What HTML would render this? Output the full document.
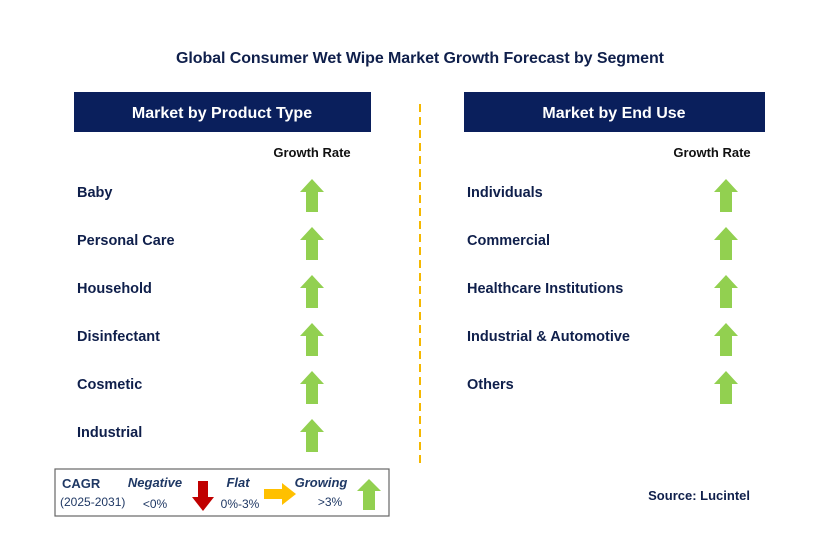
<!DOCTYPE html>
<html><head><meta charset="utf-8"><style>
body{margin:0;width:829px;height:544px;background:#fff;overflow:hidden;font-family:"Liberation Sans",Arial,sans-serif}
</style></head><body>
<svg width="829" height="544" viewBox="0 0 829 544" id="chart">
<text x="420" y="63" text-anchor="middle" font-size="16" font-weight="bold" fill="#0f1f4b" textLength="488">Global Consumer Wet Wipe Market Growth Forecast by Segment</text>
<rect x="74" y="92" width="297" height="40" fill="#0a1f5c"/>
<text x="222" y="118" text-anchor="middle" font-size="16" font-weight="bold" fill="#fff">Market by Product Type</text>
<rect x="464" y="92" width="301" height="40" fill="#0a1f5c"/>
<text x="614" y="118" text-anchor="middle" font-size="16" font-weight="bold" fill="#fff">Market by End Use</text>
<line x1="420" y1="104" x2="420" y2="464" stroke="#f5b800" stroke-width="2" stroke-dasharray="8,5"/>
<text x="312" y="157" text-anchor="middle" font-size="13" font-weight="bold" fill="#111">Growth Rate</text>
<text x="712" y="157" text-anchor="middle" font-size="13" font-weight="bold" fill="#111">Growth Rate</text>
<g id="rows"></g>
<rect x="55" y="469" width="334" height="47" fill="#fff" stroke="#666" stroke-width="1.2"/>
<text x="62" y="488" font-size="13" font-weight="bold" fill="#1f3864">CAGR</text>
<text x="60" y="506" font-size="12" fill="#1f3864">(2025-2031)</text>
<text x="155" y="487" text-anchor="middle" font-size="13" font-weight="bold" font-style="italic" fill="#1f3864">Negative</text>
<text x="155" y="508" text-anchor="middle" font-size="12" fill="#1f3864">&lt;0%</text>
<path d="M198,481 h10 v16 h6 l-11,14 l-11,-14 h6 z" fill="#c00000"/>
<text x="238" y="487" text-anchor="middle" font-size="13" font-weight="bold" font-style="italic" fill="#1f3864">Flat</text>
<text x="240" y="508" text-anchor="middle" font-size="12" fill="#1f3864">0%-3%</text>
<path d="M264,489 h18 v-6 l14,11 l-14,11 v-6 h-18 z" fill="#ffc000"/>
<text x="321" y="487" text-anchor="middle" font-size="13" font-weight="bold" font-style="italic" fill="#1f3864">Growing</text>
<text x="330" y="506" text-anchor="middle" font-size="12" fill="#1f3864">&gt;3%</text>
<path d="M369,479 l12,12 h-6 v19 h-12 v-19 h-6 z" fill="#92d050"/>
<text x="750" y="500" text-anchor="end" font-size="13" font-weight="bold" fill="#0f1f4b">Source: Lucintel</text>
</svg>
<script>
const leftCategories=["Baby","Personal Care","Household","Disinfectant","Cosmetic","Industrial"];
const leftTrend=["up","up","up","up","up","up"];
const rightCategories=["Individuals","Commercial","Healthcare Institutions","Industrial & Automotive","Others"];
const rightTrend=["up","up","up","up","up"];
const NS="http://www.w3.org/2000/svg";
const g=document.getElementById('rows');
function rowY(i){return 192+i*48;}
function arrow(cx,cy,trend){
  const p=document.createElementNS(NS,'path');
  let d,f;
  if(trend==="up"){d=`M${cx},${cy-17} l12,13 h-6 v20 h-12 v-20 h-6 z`;f="#92d050";}
  else if(trend==="down"){d=`M${cx},${cy+17} l12,-13 h-6 v-20 h-12 v20 h-6 z`;f="#c00000";}
  else {d=`M${cx+17},${cy} l-13,12 v-6 h-20 v-12 h20 v-6 z`;f="#ffc000";}
  p.setAttribute('d',d);p.setAttribute('fill',f);
  return p;
}
function draw(cats,trends,tx,ax){
  cats.forEach((c,i)=>{
    const y=rowY(i);
    const t=document.createElementNS(NS,'text');
    t.setAttribute('x',tx);t.setAttribute('y',y+5);
    t.setAttribute('font-size','14.5');t.setAttribute('font-weight','bold');t.setAttribute('fill','#0f1f4b');
    t.textContent=c;
    
    
    g.appendChild(t);
    const a=arrow(ax,y+4,trends[i]);
    
    
    g.appendChild(a);
  });
}
draw(leftCategories,leftTrend,77,312);
draw(rightCategories,rightTrend,467,726);
</script>
</body></html>
